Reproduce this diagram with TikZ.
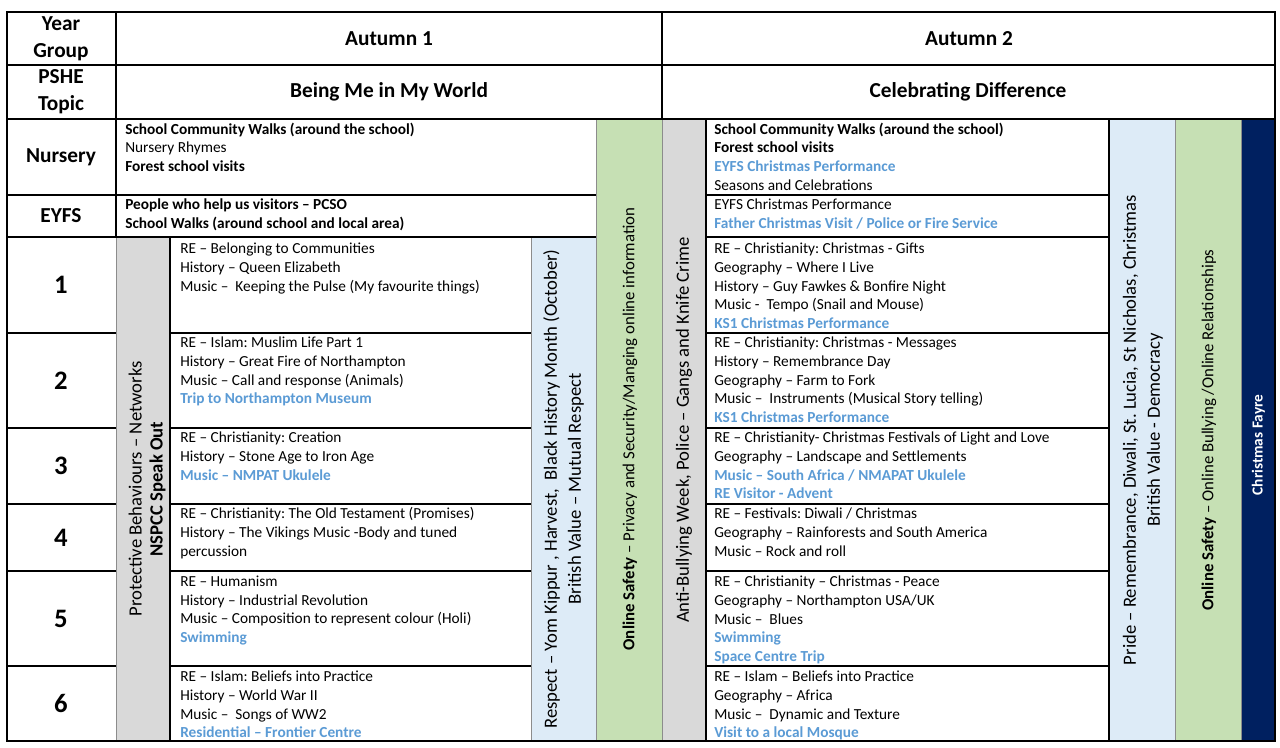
\documentclass[tikz,border=0pt]{standalone}
\usepackage{fontspec}
\setmainfont{Carlito}
\frenchspacing
\definecolor{cgrey}{HTML}{D9D9D9}
\definecolor{cblue}{HTML}{DDEBF7}
\definecolor{cgreen}{HTML}{C6E0B4}
\definecolor{cnavy}{HTML}{002060}
\definecolor{tblue}{HTML}{5B9BD5}
\definecolor{gline}{HTML}{8C8C8C}
\newcommand{\mybold}[1]{{\bfseries #1}}
\newcommand{\myblue}[1]{{\bfseries\color{tblue}#1}}
\begin{document}
\begin{tikzpicture}[x=0.75pt,y=-0.75pt,
  cell/.style={anchor=north west,inner sep=0pt,align=left,font=\fontsize{11.5}{14.1}\selectfont\frenchspacing,execute at begin node=\strut},
  head/.style={inner sep=0pt,align=center,font=\fontsize{16}{20}\selectfont\bfseries},
  ynum/.style={inner sep=0pt,font=\fontsize{20}{24}\selectfont\bfseries},
  vtext/.style={rotate=90,inner sep=0pt,align=center},
  bline/.style={draw=black,line width=0.9pt},
  gl/.style={draw=gline,line width=0.6pt}]
\useasboundingbox (0,0) rectangle (1280,747);
\fill[white] (0,0) rectangle (1280,747);
% coloured columns
\fill[cgrey] (116,237) rectangle (170,741);
\fill[cblue] (531,237) rectangle (596,741);
\fill[cgreen] (596,119) rectangle (662,741);
\fill[cgrey] (662,119) rectangle (706,741);
\fill[cblue] (1109,119) rectangle (1175,741);
\fill[cgreen] (1175,119) rectangle (1241,741);
\fill[cnavy] (1241,119) rectangle (1275,741);
% grey column borders
\draw[gl] (116,237) -- (116,741);
\draw[gl] (531,237) -- (531,741);
\draw[gl] (596,119) -- (596,741);
\draw[gl] (662,119) -- (662,741);
\draw[gl] (1175,119) -- (1175,741);
\draw[gl] (1241,119) -- (1241,741);
% black lines
\draw[bline] (7,12) rectangle (1275,741);
\draw[bline] (7,65) -- (1275,65);
\draw[bline] (7,119) -- (1275,119);
\draw[bline] (116,12) -- (116,237);
\draw[bline] (662,12) -- (662,119);
\draw[bline] (7,195) -- (596,195);
\draw[bline] (7,237) -- (596,237);
\draw[bline] (170,237) -- (170,741);
\draw[bline] (706,119) -- (706,741);
\draw[bline] (1109,119) -- (1109,741);
\draw[bline] (706,195) -- (1109,195);
\draw[bline] (706,237) -- (1109,237);
\foreach \yy in {333,428,504,571,666}{
  \draw[bline] (7,\yy) -- (116,\yy);
  \draw[bline] (170,\yy) -- (531,\yy);
  \draw[bline] (706,\yy) -- (1109,\yy);
}
% header texts
\node[head,font=\fontsize{16}{20.25}\selectfont\bfseries] (yg) at (61,38.5) {Year\\Group};
\node[head,font=\fontsize{16}{20.25}\selectfont\bfseries] (pt) at (61,92) {PSHE\\Topic};
\node[head] (a1) at (389,39) {Autumn 1};
\node[head] (a2) at (969,39) {Autumn 2};
\node[head] (t1) at (389,92) {Being Me in My World};
\node[head] (t2) at (968,92) {Celebrating Difference};
\node[head] (ny) at (61,157) {Nursery};
\node[head] (ey) at (61,216) {EYFS};
\node[ynum] (y1) at (61,285) {1};
\node[ynum] (y2) at (61,380.5) {2};
\node[ynum] (y3) at (61,466) {3};
\node[ynum] (y4) at (61,537.5) {4};
\node[ynum] (y5) at (61,618.5) {5};
\node[ynum] (y6) at (61,703.5) {6};
% Autumn 1 cells
\node[cell] (a1n) at (125,122.5) {\mybold{School Community Walks (around the school)}\\Nursery Rhymes\\\mybold{Forest school visits}};
\node[cell] (a1e) at (125,198.5) {\mybold{People who help us visitors – PCSO}\\\mybold{School Walks (around school and local area)}};
\node[cell] (a1r1) at (180,242.5) {RE – Belonging to Communities\\History – Queen Elizabeth\\Music –\ \ Keeping the Pulse (My favourite things)};
\node[cell] (a1r2) at (180,336.5) {RE – Islam: Muslim Life Part 1\\History – Great Fire of Northampton\\Music – Call and response (Animals)\\\myblue{Trip to Northampton Museum}};
\node[cell] (a1r3) at (180,431.5) {RE – Christianity: Creation\\History – Stone Age to Iron Age\\\myblue{Music – NMPAT Ukulele}};
\node[cell] (a1r4) at (180,507.5) {RE – Christianity: The Old Testament (Promises)\\History – The Vikings Music -Body and tuned\\percussion};
\node[cell] (a1r5) at (180,575.5) {RE – Humanism\\History – Industrial Revolution\\Music – Composition to represent colour (Holi)\\\myblue{Swimming}};
\node[cell] (a1r6) at (180,670.5) {RE – Islam: Beliefs into Practice\\History – World War II\\Music –\ \ Songs of WW2\\\myblue{Residential – Frontier Centre}};
% Autumn 2 cells
\node[cell] (a2n) at (714,122.5) {\mybold{School Community Walks (around the school)}\\\mybold{Forest school visits}\\\myblue{EYFS Christmas Performance}\\Seasons and Celebrations};
\node[cell] (a2e) at (714,198.5) {EYFS Christmas Performance\\\myblue{Father Christmas Visit / Police or Fire Service}};
\node[cell] (a2r1) at (714,242.5) {RE – Christianity: Christmas - Gifts\\Geography – Where I Live\\History – Guy Fawkes \& Bonfire Night\\Music -\ \ Tempo (Snail and Mouse)\\\myblue{KS1 Christmas Performance}};
\node[cell] (a2r2) at (714,336.5) {RE – Christianity: Christmas - Messages\\History – Remembrance Day\\Geography – Farm to Fork\\Music –\ \ Instruments (Musical Story telling)\\\myblue{KS1 Christmas Performance}};
\node[cell] (a2r3) at (714,431.5) {RE – Christianity- Christmas Festivals of Light and Love\\Geography – Landscape and Settlements\\\myblue{Music – South Africa / NMAPAT Ukulele}\\\myblue{RE Visitor - Advent}};
\node[cell] (a2r4) at (714,507.5) {RE – Festivals: Diwali / Christmas\\Geography – Rainforests and South America\\Music – Rock and roll};
\node[cell] (a2r5) at (714,575.5) {RE – Christianity – Christmas - Peace\\Geography – Northampton USA/UK\\Music –\ \ Blues\\\myblue{Swimming}\\\myblue{Space Centre Trip}};
\node[cell] (a2r6) at (714,670.5) {RE – Islam – Beliefs into Practice\\Geography – Africa\\Music –\ \ Dynamic and Texture\\\myblue{Visit to a local Mosque}};
% vertical texts
\node[vtext,font=\fontsize{14}{15.75}\selectfont] (vprot) at (147,489) {Protective Behaviours – Networks\\\mybold{NSPCC Speak Out}};
\node[vtext,font=\fontsize{14}{18}\selectfont] (vresp) at (563.5,489) {Respect – Yom Kippur , Harvest,\ \ Black History Month (October)\\British Value – Mutual Respect};
\node[vtext,font=\fontsize{12.6}{15}\selectfont] (vos1) at (630,429) {\mybold{Online Safety} – Privacy and Security/Manging online information};
\node[vtext,font=\fontsize{14}{17}\selectfont] (vanti) at (684,430) {Anti-Bullying Week, Police – Gangs and Knife Crime};
\node[vtext,font=\fontsize{14}{18}\selectfont] (vpride) at (1143,430) {Pride – Remembrance, Diwali, St. Lucia, St Nicholas, Christmas\\British Value - Democracy};
\node[vtext,font=\fontsize{12.6}{15}\selectfont] (vos2) at (1209,430) {\mybold{Online Safety} – Online Bullying /Online Relationships};
\node[vtext,font=\fontsize{11.5}{14}\selectfont\bfseries,text=white] (vcf) at (1258.5,445) {Christmas Fayre};
\end{tikzpicture}
\end{document}
